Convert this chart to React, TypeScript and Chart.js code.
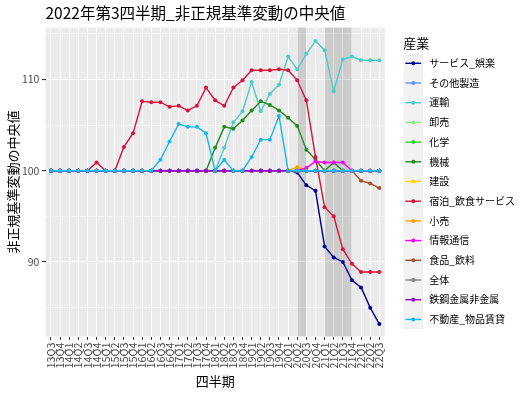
import React, { useEffect, useRef } from "react";
import { Chart, registerables } from "chart.js";

Chart.register(...registerables);

const chartTitle = "2022年第3四半期_非正規基準変動の中央値";
const xTitle = "四半期";
const yTitle = "非正規基準変動の中央値";
const legendTitle = "産業";

const quarters = [
  "13Q3", "13Q4", "14Q1", "14Q2", "14Q3", "14Q4", "15Q1", "15Q2", "15Q3", "15Q4",
  "16Q1", "16Q2", "16Q3", "16Q4", "17Q1", "17Q2", "17Q3", "17Q4", "18Q1", "18Q2",
  "18Q3", "18Q4", "19Q1", "19Q2", "19Q3", "19Q4", "20Q1", "20Q2", "20Q3", "20Q4",
  "21Q1", "21Q2", "21Q3", "21Q4", "22Q1", "22Q2", "22Q3",
];

const serviceEntertainment = [
  100, 100, 100, 100, 100, 100, 100, 100, 100, 100,
  100, 100, 100, 100, 100, 100, 100, 100, 100, 100,
  100, 100, 100, 100, 100, 100, 100, 99.8, 98.4, 97.8,
  91.7, 90.5, 90.0, 88.0, 87.2, 85.0, 83.2,
];
const otherManufacturing = [
  100, 100, 100, 100, 100, 100, 100, 100, 100, 100,
  100, 100, 100, 100, 100, 100, 100, 100, 100, 100,
  100, 100, 100, 100, 100, 100, 100, 100, 100, 100,
  100, 100, 100, 100, 100, 100, 100,
];
const transport = [
  100, 100, 100, 100, 100, 100, 100, 100, 100, 100,
  100, 100, 100, 100, 100, 100, 100, 100, 100, 102.5,
  105.3, 106.5, 109.7, 106.5, 108.4, 109.4, 112.5, 111.1, 112.8, 114.2,
  113.2, 108.7, 112.2, 112.5, 112.1, 112.1, 112.1,
];
const wholesale = [
  100, 100, 100, 100, 100, 100, 100, 100, 100, 100,
  100, 100, 100, 100, 100, 100, 100, 100, 100, 100,
  100, 100, 100, 100, 100, 100, 100, 100, 100, 100,
  100, 100, 100, 100, 100, 100, 100,
];
const chemical = [
  100, 100, 100, 100, 100, 100, 100, 100, 100, 100,
  100, 100, 100, 100, 100, 100, 100, 100, 100, 100,
  100, 100, 100, 100, 100, 100, 100, 100, 100, 100,
  100, 100, 100, 100, 100, 100, 100,
];
const machinery = [
  100, 100, 100, 100, 100, 100, 100, 100, 100, 100,
  100, 100, 100, 100, 100, 100, 100, 100, 102.5, 104.8,
  104.6, 105.5, 106.6, 107.6, 107.2, 106.6, 105.8, 104.9, 102.3, 101.2,
  100, 100.9, 100, 100, 100, 100, 100,
];
const construction = [
  100, 100, 100, 100, 100, 100, 100, 100, 100, 100,
  100, 100, 100, 100, 100, 100, 100, 100, 100, 100,
  100, 100, 100, 100, 100, 100, 100, 100, 100, 100,
  100, 100, 100, 100, 100, 100, 100,
];
const hotelFood = [
  100, 100, 100, 100, 100, 100.9, 100, 100, 102.6, 104.1,
  107.6, 107.5, 107.5, 107.0, 107.1, 106.6, 107.1, 109.1, 107.7, 107.1,
  109.1, 109.9, 111.0, 111.0, 111.0, 111.1, 111.0, 109.9, 107.7, 101.5,
  96.0, 95.0, 91.4, 89.8, 88.9, 88.9, 88.9,
];
const retail = [
  100, 100, 100, 100, 100, 100, 100, 100, 100, 100,
  100, 100, 100, 100, 100, 100, 100, 100, 100, 100,
  100, 100, 100, 100, 100, 100, 100, 100.4, 100, 100,
  100, 100, 100, 100, 100, 100, 100,
];
const infoComm = [
  100, 100, 100, 100, 100, 100, 100, 100, 100, 100,
  100, 100, 100, 100, 100, 100, 100, 100, 100, 100,
  100, 100, 100, 100, 100, 100, 100, 100, 100.3, 101.0,
  100.9, 100.9, 100.9, 100, 100, 100, 100,
];
const foodBeverage = [
  100, 100, 100, 100, 100, 100, 100, 100, 100, 100,
  100, 100, 100, 100, 100, 100, 100, 100, 100, 100,
  100, 100, 100, 100, 100, 100, 100, 100, 100, 100,
  100, 100, 100, 100, 98.9, 98.6, 98.1,
];
const overall = [
  100, 100, 100, 100, 100, 100, 100, 100, 100, 100,
  100, 100, 100, 100, 100, 100, 100, 100, 100, 100,
  100, 100, 100, 100, 100, 100, 100, 100, 100, 100,
  100, 100, 100, 100, 100, 100, 100,
];
const steelMetal = [
  100, 100, 100, 100, 100, 100, 100, 100, 100, 100,
  100, 100, 100, 100, 100, 100, 100, 100, 100, 100,
  100, 100, 100, 100, 100, 100, 100, 100, 100, 100,
  100, 100, 100, 100, 100, 100, 100,
];
const realEstate = [
  100, 100, 100, 100, 100, 100, 100, 100, 100, 100,
  100, 100, 101.2, 103.2, 105.1, 104.8, 104.8, 104.1, 100, 101.2,
  100, 100, 101.5, 103.4, 103.4, 106.0, 100, 100, 100, 100,
  100, 100, 100, 100, 100, 100, 100,
];

const seriesNames = [
  "サービス_娯楽", "その他製造", "運輸", "卸売", "化学", "機械", "建設",
  "宿泊_飲食サービス", "小売", "情報通信", "食品_飲料", "全体", "鉄鋼金属非金属", "不動産_物品賃貸",
];
const seriesValues = [
  serviceEntertainment, otherManufacturing, transport, wholesale, chemical, machinery, construction,
  hotelFood, retail, infoComm, foodBeverage, overall, steelMetal, realEstate,
];
const seriesColors = [
  "#00008B", "#6495ED", "#4ECDC8", "#90EE90", "#32CD32", "#228B22", "#FFD700",
  "#D8143C", "#FFA500", "#FF00FF", "#A0522D", "#808080", "#9400D3", "#14B8EC",
];

// shaded periods
const shadeFrom = ["20Q2", "21Q1"];
const shadeTo = ["20Q3", "21Q4"];

const yTickValues = [85, 90, 95, 100, 105, 110, 115];
const yMin = 81.84;
const yMax = 115.68;

const FONT = '"Noto Sans CJK JP", "Noto Sans", sans-serif';

const decorPlugin = {
  id: "ggDecor",
  beforeDraw(chart: any) {
    const { ctx, chartArea: a } = chart;
    ctx.save();
    ctx.fillStyle = "#FFFFFF";
    ctx.fillRect(0, 0, chart.width, chart.height);
    ctx.fillStyle = "#EBEBEB";
    ctx.fillRect(a.left, a.top, a.right - a.left, a.bottom - a.top);
    ctx.restore();
  },
  beforeDatasetsDraw(chart: any) {
    const { ctx, chartArea: a } = chart;
    const xs = chart.scales.x;
    ctx.save();
    ctx.fillStyle = "rgba(0,0,0,0.13)";
    for (let k = 0; k < shadeFrom.length; k++) {
      const x0 = xs.getPixelForValue(quarters.indexOf(shadeFrom[k]));
      const x1 = xs.getPixelForValue(quarters.indexOf(shadeTo[k]));
      ctx.fillRect(x0, a.top, x1 - x0, a.bottom - a.top);
    }
    ctx.restore();
  },
  afterDraw(chart: any) {
    const { ctx, chartArea: a } = chart;
    ctx.save();
    ctx.fillStyle = "#000000";
    ctx.font = `15.5px ${FONT}`;
    ctx.textAlign = "left";
    ctx.textBaseline = "middle";
    ctx.fillText(chartTitle, a.left, 13.5);
    ctx.font = `13px ${FONT}`;
    ctx.textAlign = "center";
    ctx.fillText(xTitle, (a.left + a.right) / 2, 381);
    ctx.save();
    ctx.translate(13.5, (a.top + a.bottom) / 2);
    ctx.rotate(-Math.PI / 2);
    ctx.fillText(yTitle, 0, 0);
    ctx.restore();
    const lx = 403.3;
    ctx.textAlign = "left";
    ctx.font = `13px ${FONT}`;
    ctx.fillText(legendTitle, lx, 43);
    const rowH = 19.7;
    const firstCenter = 63.3;
    ctx.fillStyle = "#F2F2F2";
    ctx.fillRect(lx, firstCenter - rowH / 2, 20, rowH * seriesNames.length);
    ctx.font = `10px ${FONT}`;
    for (let k = 0; k < seriesNames.length; k++) {
      const cy = firstCenter + k * rowH;
      ctx.strokeStyle = seriesColors[k];
      ctx.lineWidth = 1.4;
      ctx.beginPath();
      ctx.moveTo(lx + 2, cy);
      ctx.lineTo(lx + 18, cy);
      ctx.stroke();
      ctx.fillStyle = seriesColors[k];
      ctx.beginPath();
      ctx.arc(lx + 10, cy, 2, 0, Math.PI * 2);
      ctx.fill();
      ctx.fillStyle = "#000000";
      ctx.fillText(seriesNames[k], 429.3, cy);
    }
    ctx.restore();
  },
};

export default function App() {
  const canvasRef = useRef<HTMLCanvasElement | null>(null);

  useEffect(() => {
    document.body.style.margin = "0";
    const canvas = canvasRef.current;
    if (!canvas) return;
    const n = seriesNames.length;
    const chart = new Chart(canvas, {
      type: "line",
      data: {
        datasets: seriesNames.map((name, i) => ({
          label: name,
          data: seriesValues[i].map((v, j) => ({ x: j, y: v })),
          borderColor: seriesColors[i],
          backgroundColor: seriesColors[i],
          pointBackgroundColor: seriesColors[i],
          pointBorderColor: seriesColors[i],
          pointBorderWidth: 0,
          pointRadius: 2,
          borderWidth: 1.4,
          tension: 0,
          order: n - 1 - i,
        })),
      },
      options: {
        responsive: false,
        animation: false,
        devicePixelRatio: 1,
        layout: { padding: { left: 0, top: 27.5, right: 139.2, bottom: 0 } },
        plugins: {
          legend: { display: false },
          title: { display: false },
          tooltip: { enabled: false },
        },
        scales: {
          x: {
            type: "linear",
            min: -0.6,
            max: quarters.length - 1 + 0.6,
            afterBuildTicks: (s: any) => {
              s.ticks = quarters.map((_, i) => ({ value: i }));
            },
            afterFit: (s: any) => {
              s.height = 56.5;
            },
            ticks: {
              autoSkip: false,
              minRotation: 90,
              maxRotation: 90,
              padding: 2.7,
              color: "#4D4D4D",
              font: { family: FONT, size: 10.8 },
              callback: (v: any) => quarters[Math.round(Number(v))],
            },
            grid: {
              color: "#FFFFFF",
              lineWidth: 1,
              tickLength: 3.4,
              tickColor: "#333333",
              drawTicks: true,
            },
            border: { display: false },
          },
          y: {
            type: "linear",
            min: yMin,
            max: yMax,
            afterBuildTicks: (s: any) => {
              s.ticks = yTickValues.map((v) => ({ value: v }));
            },
            afterFit: (s: any) => {
              s.width = 45.5;
            },
            ticks: {
              padding: 2.7,
              color: "#4D4D4D",
              font: { family: FONT, size: 10.5 },
              callback: (v: any) => (Number(v) % 10 === 0 ? String(v) : ""),
            },
            grid: {
              color: "#FFFFFF",
              lineWidth: (c: any) => (c.tick && c.tick.value % 10 === 0 ? 1.1 : 0.55),
              tickLength: 3.4,
              tickColor: (c: any) => (c.tick && c.tick.value % 10 === 0 ? "#333333" : "rgba(0,0,0,0)"),
              drawTicks: true,
            },
            border: { display: false },
          },
        },
      },
      plugins: [decorPlugin],
    } as any);
    return () => chart.destroy();
  }, []);

  return (
    <div style={{ position: "absolute", left: 0, top: 0, width: 524, height: 393 }}>
      <canvas ref={canvasRef} width={524} height={393} style={{ width: 524, height: 393 }} />
    </div>
  );
}
